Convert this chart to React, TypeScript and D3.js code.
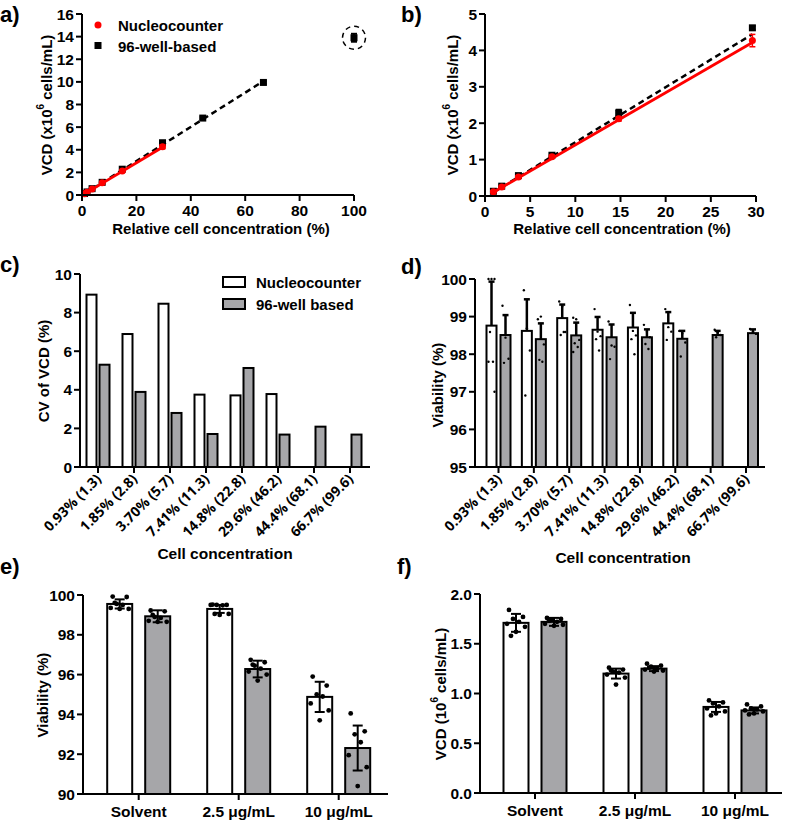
import React from "react";
import * as d3 from "d3";

// ---- data ----
const relConc = [0.93, 1.85, 3.7, 7.41, 14.8, 29.6, 44.4, 66.7, 100];
const nucleoVCD = [0.12, 0.25, 0.52, 1.08, 2.12, 4.27];
const nucleoVCDsd = [0.02, 0.02, 0.03, 0.04, 0.06, 0.17];
const wellVCD = [0.13, 0.27, 0.56, 1.12, 2.28, 4.62, 6.8, 9.95, 13.9];
const wellVCDsd = [0.01, 0.02, 0.03, 0.04, 0.09, 0.05, 0.1, 0.12, 0.35];
const nucleoFit = [0.1435, -0.03]; // slope, intercept
const wellFit = [0.1515, -0.04];

const concLabels = ["0.93% (1.3)", "1.85% (2.8)", "3.70% (5.7)", "7.41% (11.3)", "14.8% (22.8)", "29.6% (46.2)", "44.4% (68.1)", "66.7% (99.6)"];
const cvNucleo = [8.93, 6.89, 8.46, 3.75, 3.71, 3.78, null, null];
const cvWell = [5.3, 3.89, 2.8, 1.71, 5.13, 1.68, 2.09, 1.68];

const viaNucleoMean = [98.76, 98.62, 98.96, 98.65, 98.71, 98.82, null, null];
const viaNucleoSD = [1.17, 0.84, 0.36, 0.34, 0.39, 0.3, 0, 0];
const viaWellMean = [98.51, 98.4, 98.5, 98.45, 98.45, 98.41, 98.51, 98.56];
const viaWellSD = [0.53, 0.42, 0.34, 0.34, 0.21, 0.21, 0.11, 0.1];
const viaNucleoPts = [
  [100, 100, 100, 98.59, 97.8, 97.8, 97.0],
  [99.7, 98.69, 98.1, 96.9],
  [99.4, 99.27, 98.59, 98.51, 98.59],
  [99.2, 98.6, 98.48, 98.4, 98.1],
  [99.31, 98.62, 98.5, 98.4, 98.0],
  [99.2, 98.72, 98.6, 98.38],
  [],
  [],
];
const viaWellPts = [
  [99.29, 98.44, 97.88, 97.77],
  [98.93, 99.0, 98.26, 97.85, 97.8],
  [98.97, 98.93, 98.38, 98.29, 98.19, 98.06],
  [98.87, 98.23, 98.2, 97.87],
  [98.78, 98.6, 98.45, 98.27, 98.14],
  [98.62, 98.55, 98.31, 97.94],
  [98.65, 98.58, 98.51, 98.45],
  [98.67, 98.6, 98.54],
];

const treatCats = ["Solvent", "2.5 μg/mL", "10 μg/mL"];
const eNucleoMean = [99.55, 99.3, 94.88];
const eNucleoSD = [0.23, 0.2, 0.76];
const eWellMean = [98.93, 96.28, 92.31];
const eWellSD = [0.3, 0.42, 1.13];
const eNucleoPts = [
  [99.92, 99.9, 99.55, 99.5, 99.35, 99.3, 99.3, 99.6],
  [99.52, 99.5, 99.5, 99.48, 99.5, 99.05, 99.0, 99.05],
  [95.9, 95.45, 95.0, 94.9, 94.55, 94.2, 93.7],
];
const eWellPts = [
  [99.22, 99.18, 98.9, 98.85, 98.7, 98.65, 98.65, 99.0],
  [96.74, 96.62, 96.45, 96.3, 96.15, 96.0, 95.7, 96.5],
  [94.05, 93.15, 93.0, 92.6, 91.95, 91.35, 90.4],
];

const fNucleoMean = [1.71, 1.2, 0.865];
const fNucleoSD = [0.09, 0.05, 0.05];
const fWellMean = [1.72, 1.25, 0.83];
const fWellSD = [0.04, 0.025, 0.03];
const fNucleoPts = [
  [1.84, 1.77, 1.75, 1.72, 1.7, 1.67, 1.62, 1.58],
  [1.26, 1.24, 1.22, 1.21, 1.19, 1.16, 1.09, 1.23],
  [0.93, 0.91, 0.9, 0.87, 0.85, 0.82, 0.8, 0.78],
];
const fWellPts = [
  [1.76, 1.75, 1.74, 1.72, 1.7, 1.69, 1.68, 1.73],
  [1.3, 1.28, 1.27, 1.25, 1.24, 1.23, 1.22, 1.26],
  [0.89, 0.87, 0.85, 0.84, 0.83, 0.82, 0.8, 0.79],
];

// ---- styling ----
const FONT = "'Liberation Sans', Arial, sans-serif";
const ROT_FONT = "'Open Sans', sans-serif";
const RED = "#ff0000";
const GREY = "#a6a6a9";
const TICK_FS = 15.5;
const jitterBig = [-7, 7, -3, 3, -9, 9, 0, -5, 5];
const jitterSmall = [-3, 0, 3, -1.5, 1.5, -3, 3];

type Lin = d3.ScaleLinear<number, number>;

function LeftAxis({ x, y, ticks, fmt }: { x: number; y: Lin; ticks: number[]; fmt: (v: number) => string }) {
  const [y0, y1] = y.range();
  return (
    <g>
      <line x1={x} x2={x} y1={y0 + 1} y2={y1} stroke="#000" strokeWidth={2} />
      {ticks.map((t) => (
        <g key={t}>
          <line x1={x - 6} x2={x} y1={y(t)} y2={y(t)} stroke="#000" strokeWidth={2} />
          <text x={x - 8} y={y(t)} textAnchor="end" dominantBaseline="central" fontSize={TICK_FS} fontWeight="bold">
            {fmt(t)}
          </text>
        </g>
      ))}
    </g>
  );
}

function BottomLine({ x0, x1, y, ticks }: { x0: number; x1: number; y: number; ticks: number[] }) {
  return (
    <g>
      <line x1={x0 - 1} x2={x1} y1={y} y2={y} stroke="#000" strokeWidth={2} />
      {ticks.map((t, i) => (
        <line key={i} x1={t} x2={t} y1={y} y2={y + 6} stroke="#000" strokeWidth={2} />
      ))}
    </g>
  );
}

function YLabel({ x, y, children }: { x: number; y: number; children: React.ReactNode }) {
  return (
    <text transform={`translate(${x},${y}) rotate(-90)`} textAnchor="middle" dominantBaseline="central" fontSize={15} fontWeight="bold">
      {children}
    </text>
  );
}

function Sup6() {
  return (
    <tspan baselineShift="super" fontSize={10}>
      6
    </tspan>
  );
}

function ErrBar({ x, y1, y2, cap }: { x: number; y1: number; y2: number; cap: number }) {
  return (
    <g stroke="#000" strokeWidth={2}>
      <line x1={x} x2={x} y1={y1} y2={y2} />
      <line x1={x - cap / 2} x2={x + cap / 2} y1={y1} y2={y1} />
      <line x1={x - cap / 2} x2={x + cap / 2} y1={y2} y2={y2} />
    </g>
  );
}

function ScatterPanel({ x, y, xTicks, yTicks, showOutlier }: { x: Lin; y: Lin; xTicks: number[]; yTicks: number[]; showOutlier: boolean }) {
  const nX = relConc.slice(0, nucleoVCD.length);
  const wX = relConc.slice(0, showOutlier ? wellVCD.length : nucleoVCD.length);
  const wFitX = [relConc[0], relConc[showOutlier ? 7 : 5]];
  const nFitX = [relConc[0], relConc[5]];
  const fitLine = (f: number[]) => d3.line<number>().x((d) => x(d)).y((d) => y(f[0] * d + f[1]));
  const [x0, x1] = x.range();
  const y0 = y.range()[0];
  return (
    <g>
      <path d={fitLine(wellFit)(wFitX) || ""} fill="none" stroke="#000" strokeWidth={2.5} strokeDasharray="6,4" />
      {wX.map((v, i) => (
        <g key={"w" + i}>
          <ErrBar x={x(v)} y1={y(wellVCD[i] + wellVCDsd[i])} y2={y(wellVCD[i] - wellVCDsd[i])} cap={6} />
          <rect x={x(v) - 3.5} y={y(wellVCD[i]) - 3.5} width={7} height={7} fill="#000" />
        </g>
      ))}
      <path d={fitLine(nucleoFit)(nFitX) || ""} fill="none" stroke={RED} strokeWidth={2.8} />
      {nX.map((v, i) => (
        <g key={"n" + i}>
          <g stroke={RED} strokeWidth={1.5}>
            <line x1={x(v)} x2={x(v)} y1={y(nucleoVCD[i] + nucleoVCDsd[i])} y2={y(nucleoVCD[i] - nucleoVCDsd[i])} />
            <line x1={x(v) - 3} x2={x(v) + 3} y1={y(nucleoVCD[i] + nucleoVCDsd[i])} y2={y(nucleoVCD[i] + nucleoVCDsd[i])} />
            <line x1={x(v) - 3} x2={x(v) + 3} y1={y(nucleoVCD[i] - nucleoVCDsd[i])} y2={y(nucleoVCD[i] - nucleoVCDsd[i])} />
          </g>
          <circle cx={x(v)} cy={y(nucleoVCD[i])} r={3.5} fill={RED} />
        </g>
      ))}
      {showOutlier && (
        <circle cx={x(relConc[8])} cy={y(wellVCD[8])} r={11.5} fill="none" stroke="#000" strokeWidth={1.5} strokeDasharray="5,4" />
      )}
      <LeftAxis x={x0} y={y} ticks={yTicks} fmt={(v) => String(v)} />
      <BottomLine x0={x0} x1={x1} y={y0} ticks={xTicks.map((t) => x(t))} />
      {xTicks.map((t) => (
        <text key={t} x={x(t)} y={y0 + 21} textAnchor="middle" fontSize={TICK_FS} fontWeight="bold">
          {t}
        </text>
      ))}
    </g>
  );
}

function PanelA() {
  const x = d3.scaleLinear().domain([0, 100]).range([82, 354]);
  const y = d3.scaleLinear().domain([0, 16]).range([195, 14]);
  return (
    <g>
      <text x={0} y={22} fontSize={22} fontWeight="bold">a)</text>
      <ScatterPanel x={x} y={y} xTicks={d3.range(0, 101, 20)} yTicks={d3.range(0, 17, 2)} showOutlier={true} />
      <YLabel x={46} y={105}>VCD (x10<Sup6 /> cells/mL)</YLabel>
      <text x={221} y={234} textAnchor="middle" fontSize={15} fontWeight="bold">Relative cell concentration (%)</text>
      <circle cx={98} cy={25} r={3.5} fill={RED} />
      <text x={118} y={25} dominantBaseline="central" fontSize={15} fontWeight="bold">Nucleocounter</text>
      <rect x={94.5} y={42} width={7} height={7} fill="#000" />
      <text x={118} y={46} dominantBaseline="central" fontSize={15} fontWeight="bold">96-well-based</text>
    </g>
  );
}

function PanelB() {
  const x = d3.scaleLinear().domain([0, 30]).range([485, 756]);
  const y = d3.scaleLinear().domain([0, 5]).range([196, 14]);
  return (
    <g>
      <text x={401} y={22} fontSize={22} fontWeight="bold">b)</text>
      <ScatterPanel x={x} y={y} xTicks={d3.range(0, 31, 5)} yTicks={d3.range(0, 6, 1)} showOutlier={false} />
      <YLabel x={452} y={105}>VCD (x10<Sup6 /> cells/mL)</YLabel>
      <text x={622} y={234} textAnchor="middle" fontSize={15} fontWeight="bold">Relative cell concentration (%)</text>
    </g>
  );
}

function RotLabels({ x, y }: { x: d3.ScalePoint<string>; y: number }) {
  return (
    <g>
      {concLabels.map((c) => (
        <text key={c} transform={`translate(${x(c)! + 4},${y + 13}) rotate(-45)`} textAnchor="end" fontSize={14} fontFamily={ROT_FONT} fontWeight={700}>
          {c}
        </text>
      ))}
    </g>
  );
}

function PanelC() {
  const x = d3.scalePoint<string>().domain(concLabels).range([98, 350]);
  const y = d3.scaleLinear().domain([0, 10]).range([467, 274]);
  const base = y(0);
  return (
    <g>
      <text x={0} y={272} fontSize={22} fontWeight="bold">c)</text>
      {concLabels.map((c, i) => {
        const cx = x(c)!;
        const n = cvNucleo[i];
        return (
          <g key={c} stroke="#000" strokeWidth={2}>
            {n != null && <rect x={cx - 11.5} y={y(n)} width={10} height={base - y(n)} fill="#fff" />}
            <rect x={cx + 1.5} y={y(cvWell[i])} width={10} height={base - y(cvWell[i])} fill={GREY} />
          </g>
        );
      })}
      <LeftAxis x={80} y={y} ticks={d3.range(0, 11, 2)} fmt={(v) => String(v)} />
      <BottomLine x0={80} x1={370} y={base} ticks={concLabels.map((c) => x(c)!)} />
      <RotLabels x={x} y={base} />
      <YLabel x={43} y={371}>CV of VCD (%)</YLabel>
      <text x={225} y={559} textAnchor="middle" fontSize={15.5} fontWeight="bold">Cell concentration</text>
      <rect x={223} y={277} width={22} height={10} fill="#fff" stroke="#000" strokeWidth={2} />
      <text x={256} y={282} dominantBaseline="central" fontSize={15} fontWeight="bold">Nucleocounter</text>
      <rect x={223} y={299} width={22} height={10} fill={GREY} stroke="#000" strokeWidth={2} />
      <text x={256} y={304} dominantBaseline="central" fontSize={15} fontWeight="bold">96-well based</text>
    </g>
  );
}

function PanelD() {
  const x = d3.scalePoint<string>().domain(concLabels).range([498.5, 746]);
  const y = d3.scaleLinear().domain([95, 100]).range([467, 279]);
  const base = y(95);
  return (
    <g>
      <text x={401} y={274} fontSize={22} fontWeight="bold">d)</text>
      {concLabels.map((c, i) => {
        const cx = x(c)!;
        const n = viaNucleoMean[i];
        const w = viaWellMean[i];
        return (
          <g key={c}>
            {n != null && (
              <g stroke="#000" strokeWidth={2}>
                <rect x={cx - 12} y={y(n)} width={10} height={base - y(n)} fill="#fff" />
                <line x1={cx - 7} x2={cx - 7} y1={y(n)} y2={y(n + viaNucleoSD[i])} strokeWidth={2.5} />
                <line x1={cx - 10} x2={cx - 4} y1={y(n + viaNucleoSD[i])} y2={y(n + viaNucleoSD[i])} strokeWidth={2.5} />
              </g>
            )}
            <g stroke="#000" strokeWidth={2}>
              <rect x={cx + 2} y={y(w)} width={10} height={base - y(w)} fill={GREY} />
              <line x1={cx + 7} x2={cx + 7} y1={y(w)} y2={y(w + viaWellSD[i])} strokeWidth={2.5} />
              <line x1={cx + 4} x2={cx + 10} y1={y(w + viaWellSD[i])} y2={y(w + viaWellSD[i])} strokeWidth={2.5} />
            </g>
            {viaNucleoPts[i].map((v, j) => (
              <circle key={"n" + j} cx={cx - 7 + jitterSmall[j % 7]} cy={y(v)} r={1.2} fill="#000" />
            ))}
            {viaWellPts[i].map((v, j) => (
              <circle key={"w" + j} cx={cx + 7 + jitterSmall[j % 7]} cy={y(v)} r={1.2} fill="#000" />
            ))}
          </g>
        );
      })}
      <LeftAxis x={475} y={y} ticks={d3.range(95, 101, 1)} fmt={(v) => String(v)} />
      <BottomLine x0={475} x1={765} y={base} ticks={concLabels.map((c) => x(c)!)} />
      <RotLabels x={x} y={base} />
      <YLabel x={437} y={385}>Viability (%)</YLabel>
      <text x={623} y={563} textAnchor="middle" fontSize={15.5} fontWeight="bold">Cell concentration</text>
    </g>
  );
}

function TreatPanel({
  x, y, axisX, axisEnd, yTicks, fmt, nMean, nSD, wMean, wSD, nPts, wPts,
}: {
  x: d3.ScalePoint<string>; y: Lin; axisX: number; axisEnd: number; yTicks: number[]; fmt: (v: number) => string;
  nMean: number[]; nSD: number[]; wMean: number[]; wSD: number[]; nPts: number[][]; wPts: number[][];
}) {
  const base = y.range()[0];
  const bw = 25;
  return (
    <g>
      {treatCats.map((c, i) => {
        const cx = x(c)!;
        const nx = cx - 6.5 - bw / 2;
        const wx = cx + 6.5 + bw / 2;
        return (
          <g key={c}>
            <rect x={nx - bw / 2} y={y(nMean[i])} width={bw} height={base - y(nMean[i])} fill="#fff" stroke="#000" strokeWidth={2} />
            <rect x={wx - bw / 2} y={y(wMean[i])} width={bw} height={base - y(wMean[i])} fill={GREY} stroke="#000" strokeWidth={2} />
            <ErrBar x={nx} y1={y(nMean[i] + nSD[i])} y2={y(nMean[i] - nSD[i])} cap={10} />
            <ErrBar x={wx} y1={y(wMean[i] + wSD[i])} y2={y(wMean[i] - wSD[i])} cap={10} />
            {nPts[i].map((v, j) => (
              <circle key={"n" + j} cx={nx + jitterBig[j % 9]} cy={y(v)} r={2.4} fill="#000" />
            ))}
            {wPts[i].map((v, j) => (
              <circle key={"w" + j} cx={wx + jitterBig[j % 9]} cy={y(v)} r={2.4} fill="#000" />
            ))}
          </g>
        );
      })}
      <LeftAxis x={axisX} y={y} ticks={yTicks} fmt={fmt} />
      <BottomLine x0={axisX} x1={axisEnd} y={base} ticks={treatCats.map((c) => x(c)!)} />
      {treatCats.map((c) => (
        <text key={c} x={x(c)!} y={base + 23} textAnchor="middle" fontSize={15.5} fontWeight="bold">
          {c}
        </text>
      ))}
    </g>
  );
}

function PanelE() {
  const x = d3.scalePoint<string>().domain(treatCats).range([138.7, 338.7]);
  const y = d3.scaleLinear().domain([90, 100]).range([794, 595]);
  return (
    <g>
      <text x={0} y={574} fontSize={22} fontWeight="bold">e)</text>
      <TreatPanel x={x} y={y} axisX={83} axisEnd={388} yTicks={d3.range(90, 101, 2)} fmt={(v) => String(v)}
        nMean={eNucleoMean} nSD={eNucleoSD} wMean={eWellMean} wSD={eWellSD} nPts={eNucleoPts} wPts={eWellPts} />
      <YLabel x={42} y={695}>Viability (%)</YLabel>
    </g>
  );
}

function PanelF() {
  const x = d3.scalePoint<string>().domain(treatCats).range([535, 735]);
  const y = d3.scaleLinear().domain([0, 2]).range([793, 594]);
  return (
    <g>
      <text x={397} y={574} fontSize={22} fontWeight="bold">f)</text>
      <TreatPanel x={x} y={y} axisX={480} axisEnd={782} yTicks={d3.range(0, 2.01, 0.5)} fmt={d3.format(".1f")}
        nMean={fNucleoMean} nSD={fNucleoSD} wMean={fWellMean} wSD={fWellSD} nPts={fNucleoPts} wPts={fWellPts} />
      <YLabel x={440} y={694}>VCD (10<Sup6 /> cells/mL)</YLabel>
    </g>
  );
}

export default function App() {
  return (
    <svg width={787} height={821} fontFamily={FONT} style={{ position: "absolute", left: 0, top: 0, background: "#fff" }}>
      <PanelA />
      <PanelB />
      <PanelC />
      <PanelD />
      <PanelE />
      <PanelF />
    </svg>
  );
}
